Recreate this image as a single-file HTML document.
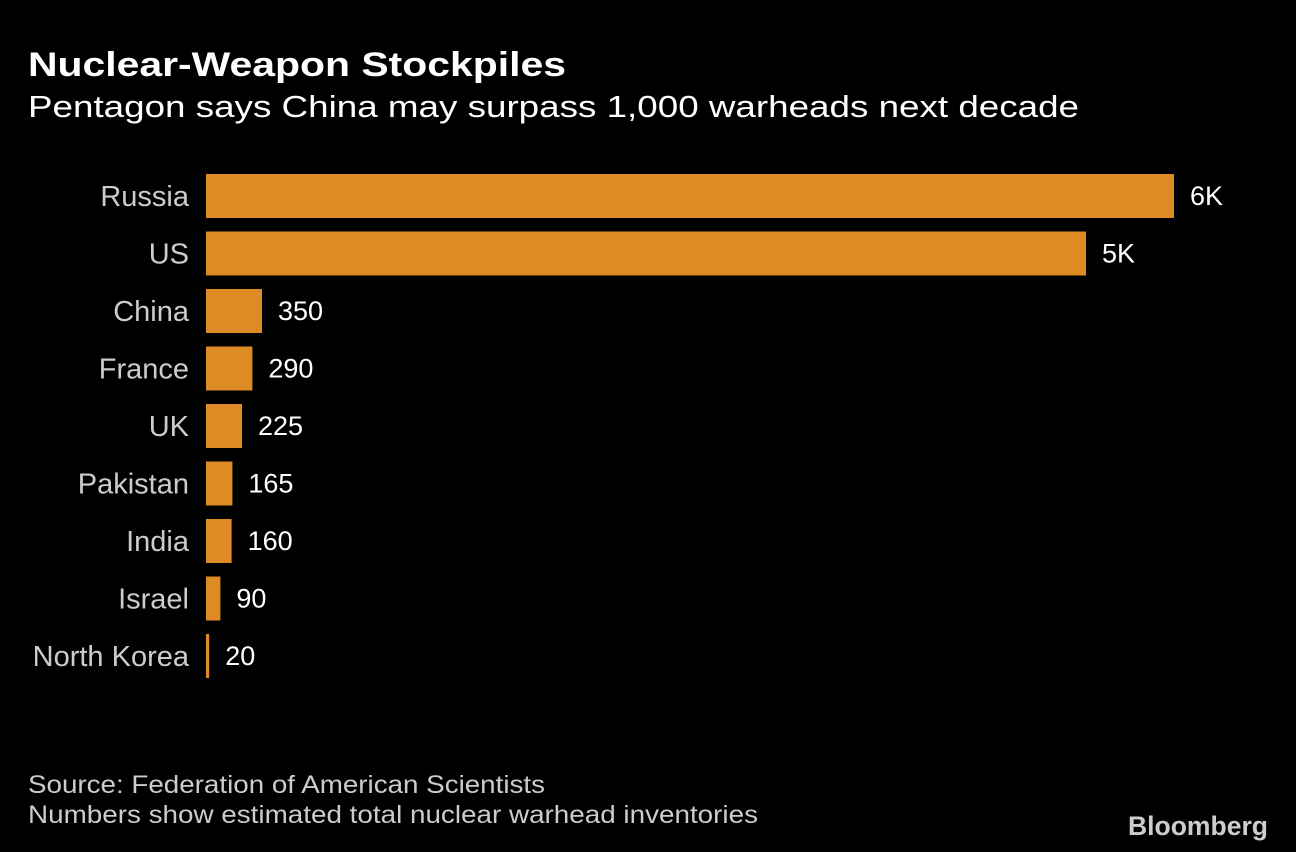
<!DOCTYPE html>
<html><head><meta charset="utf-8"><style>
html,body{margin:0;padding:0;background:#000;}
svg{display:block;font-family:"Liberation Sans",sans-serif;}
</style></head><body>
<svg width="1296" height="852" viewBox="0 0 1296 852">
<rect width="1296" height="852" fill="#000"/>
<text x="28" y="76" fill="#fff" font-size="34" font-weight="bold" textLength="538" lengthAdjust="spacingAndGlyphs">Nuclear-Weapon Stockpiles</text>
<text x="28" y="117" fill="#fff" font-size="31" textLength="1051" lengthAdjust="spacingAndGlyphs">Pentagon says China may surpass 1,000 warheads next decade</text>
<g id="bars"></g>
<text x="28" y="793" fill="#ccc" font-size="25" textLength="517" lengthAdjust="spacingAndGlyphs">Source: Federation of American Scientists</text>
<text x="28" y="823" fill="#ccc" font-size="25" textLength="730" lengthAdjust="spacingAndGlyphs">Numbers show estimated total nuclear warhead inventories</text>
<text x="1268" y="835" fill="#ccc" font-size="27" font-weight="bold" text-anchor="end" textLength="140" lengthAdjust="spacingAndGlyphs">Bloomberg</text>
</svg>
<script>
const categories=["Russia","US","China","France","UK","Pakistan","India","Israel","North Korea"];
const values=[6050,5500,350,290,225,165,160,90,20];
const valueLabels=["6K","5K","350","290","225","165","160","90","20"];
const NS="http://www.w3.org/2000/svg";
const g=document.getElementById('bars');
const x0=206,pxPerUnit=0.16,yTop=174,step=57.5,bh=44;
const xs=v=>x0+v*pxPerUnit;
const yb=i=>yTop+i*step;
categories.forEach((c,i)=>{
  const r=document.createElementNS(NS,'rect');
  r.setAttribute('x',x0);r.setAttribute('y',yb(i));
  r.setAttribute('width',Math.max(2,xs(values[i])-x0));r.setAttribute('height',bh);
  r.setAttribute('fill','#de8a25');
  
  
  g.appendChild(r);
  const t=document.createElementNS(NS,'text');
  t.setAttribute('x',189);t.setAttribute('y',yb(i)+bh/2+10);
  t.setAttribute('text-anchor','end');t.setAttribute('fill','#ccc');t.setAttribute('font-size','29');
  t.textContent=c;
  
  
  g.appendChild(t);
  const v=document.createElementNS(NS,'text');
  v.setAttribute('x',Math.max(2,xs(values[i])-x0)+x0+16);v.setAttribute('y',yb(i)+bh/2+9);
  v.setAttribute('fill','#fff');v.setAttribute('font-size','27');
  v.textContent=valueLabels[i];
  
  
  g.appendChild(v);
});
</script>
</body></html>
